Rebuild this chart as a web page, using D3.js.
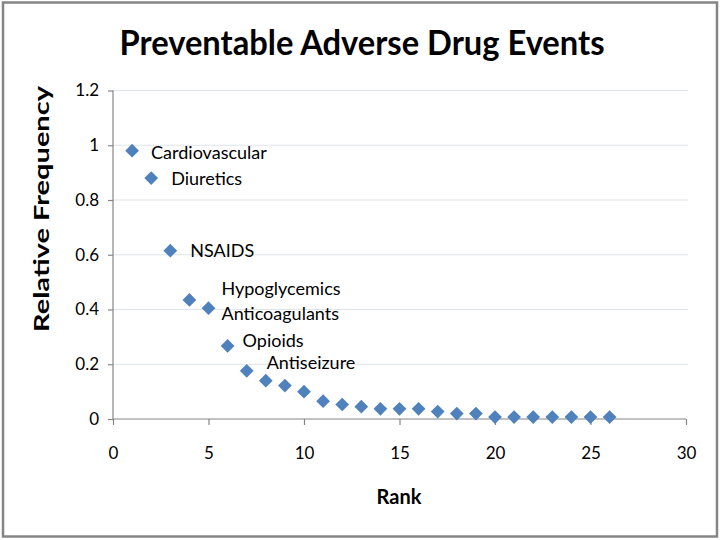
<!DOCTYPE html>
<html>
<head>
<meta charset="utf-8">
<script src="https://cdn.jsdelivr.net/npm/d3@7"></script>
<style>
  body { margin: 0; background: #fff; }
  text { font-family: Lato, "Open Sans", sans-serif; fill: #000; }
</style>
</head>
<body>
<script>
// ranks and relative frequency
const ranks = d3.range(1, 27);
const freq = [0.98, 0.88, 0.615, 0.435, 0.405, 0.267, 0.176, 0.14, 0.122, 0.1,
              0.065, 0.053, 0.045, 0.037, 0.037, 0.037, 0.027, 0.02, 0.02, 0.007,
              0.007, 0.007, 0.007, 0.007, 0.007, 0.007];

// drug classes labelled next to the first seven points
const drugClasses = ["Cardiovascular", "Diuretics", "NSAIDS", "Hypoglycemics",
                     "Anticoagulants", "Opioids", "Antiseizure"];

const xTicks = [0, 5, 10, 15, 20, 25, 30];
const yTicks = [0, 0.2, 0.4, 0.6, 0.8, 1, 1.2];

window.onload = function() {
  const w = 720;
  const h = 540;

  let svg = d3.select("body")
    .append("svg")
    .attr("width", w)
    .attr("height", h);

  // outer frame
  svg.append("rect")
    .attr("x", 3)
    .attr("y", 2.5)
    .attr("width", 714)
    .attr("height", 534)
    .attr("fill", "#fff")
    .attr("stroke", "#858585")
    .attr("stroke-width", 2.5);

  let xScale = d3.scaleLinear().domain([0, 30]).range([113, 686]);
  let yScale = d3.scaleLinear().domain([0, 1.2]).range([419, 90.5]);

  // horizontal gridlines
  svg.selectAll(".grid")
    .data(yTicks.slice(1))
    .enter()
    .append("line")
    .attr("class", "grid")
    .attr("x1", 113)
    .attr("x2", 688)
    .attr("y1", function(d) { return yScale(d); })
    .attr("y2", function(d) { return yScale(d); })
    .attr("stroke", "#dde4ea")
    .attr("stroke-width", 1.2);

  // axes
  let yAxis = d3.axisLeft(yScale)
    .tickValues(yTicks)
    .tickSize(5)
    .tickPadding(9)
    .tickFormat(function(d) { return String(d); });
  let xAxis = d3.axisBottom(xScale)
    .tickValues(xTicks)
    .tickSize(6)
    .tickPadding(22);

  let gy = svg.append("g")
    .attr("transform", "translate(113,0)")
    .call(yAxis);
  let gx = svg.append("g")
    .attr("transform", "translate(0,419)")
    .call(xAxis);

  [gx, gy].forEach(function(g) {
    g.select(".domain").attr("stroke", "#868686").attr("stroke-width", 1.2);
    g.selectAll(".tick line").attr("stroke", "#868686").attr("stroke-width", 1.2);
    g.selectAll(".tick text")
      .style("font-family", "Lato, sans-serif")
      .style("font-size", "17px")
      .attr("fill", "#333");
  });
  gy.select(".domain").attr("d", "M0,419V90.5");
  gx.select(".domain").attr("d", "M113,0H686");

  // diamond markers
  let diamond = d3.symbol().type(d3.symbolDiamond2).size(120);
  svg.selectAll(".pt")
    .data(ranks)
    .enter()
    .append("path")
    .attr("class", "pt")
    .attr("d", diamond)
    .attr("transform", function(d, i) {
      return "translate(" + xScale(d) + "," + yScale(freq[i]) + ")";
    })
    .attr("fill", "#4f81bd");

  // label nudges from the points (dx, dy)
  const nudge = [[19, 2], [20, 1], [20, 0], [32, -11], [13, 6], [15, -5], [20, -8]];
  svg.selectAll(".lbl")
    .data(drugClasses)
    .enter()
    .append("text")
    .attr("class", "lbl")
    .attr("x", function(d, i) { return xScale(ranks[i]) + nudge[i][0]; })
    .attr("y", function(d, i) { return yScale(freq[i]) + nudge[i][1]; })
    .attr("dy", "0.35em")
    .style("font-size", "18px")
    .text(function(d) { return d; });

  // title
  svg.append("text")
    .attr("x", 362)
    .attr("y", 55)
    .attr("text-anchor", "middle")
    .attr("textLength", 485)
    .attr("lengthAdjust", "spacingAndGlyphs")
    .style("font-size", "35px")
    .style("font-weight", "bold")
    .text("Preventable Adverse Drug Events");

  // axis titles
  svg.append("text")
    .attr("x", 399)
    .attr("y", 504)
    .attr("text-anchor", "middle")
    .style("font-size", "20px")
    .style("font-weight", "bold")
    .text("Rank");
  svg.append("text")
    .attr("transform", "translate(49,209) rotate(-90)")
    .attr("text-anchor", "middle")
    .attr("textLength", 246)
    .attr("lengthAdjust", "spacingAndGlyphs")
    .style("font-size", "20px")
    .style("font-weight", "bold")
    .text("Relative Frequency");
};
</script>
</body>
</html>
